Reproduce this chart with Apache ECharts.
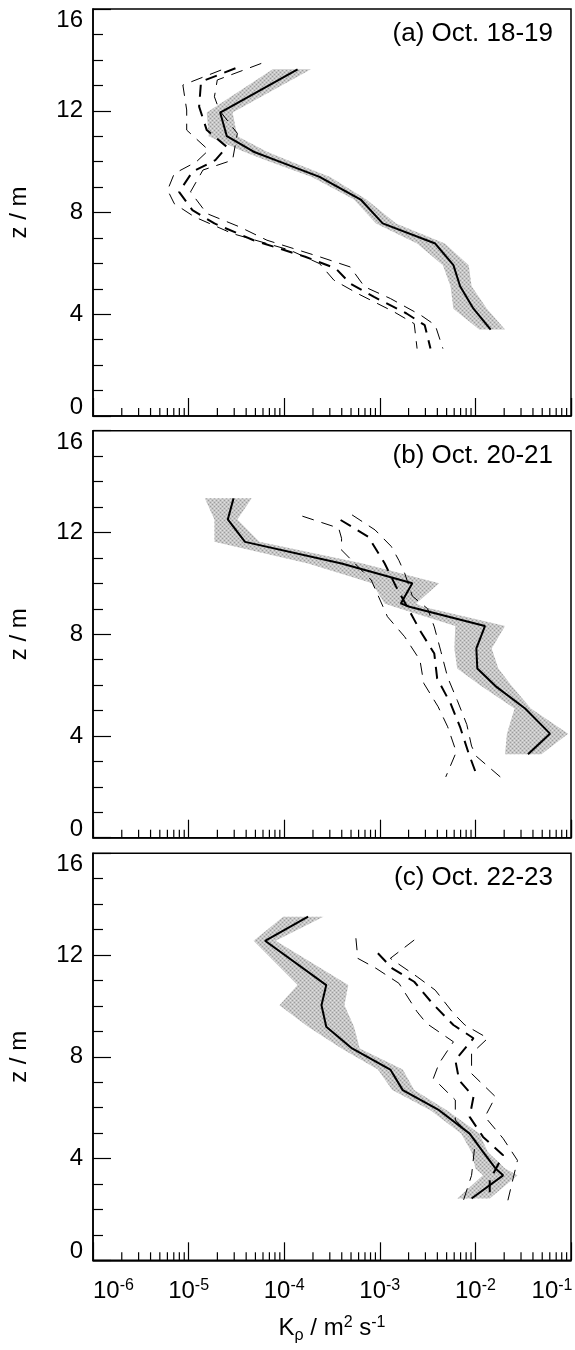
<!DOCTYPE html>
<html>
<head>
<meta charset="utf-8">
<script src="https://cdn.jsdelivr.net/npm/echarts@6/dist/echarts.min.js"></script>
<style>
  html, body { margin: 0; padding: 0; background: #fff; }
  #chart { width: 575px; height: 1350px; }
</style>
</head>
<body>
<div id="chart"></div>
<script>
// Eddy diffusivity profiles K_rho(z); values stored as log10(K / m^2 s^-1), heights z in m.
const panelTitles = ['(a) Oct. 18-19', '(b) Oct. 20-21', '(c) Oct. 22-23'];
const xTickExponents = [-6, -5, -4, -3, -2, -1];
const yTickValues = [0, 4, 8, 12, 16];

// ---- (a) Oct. 18-19 ----
const solidZ_a     = [13.63, 11.93, 11.00, 10.39, 10.06, 9.40, 8.51, 7.57, 6.78, 5.93, 5.10, 4.22, 3.40];
const solidLogK_a  = [-3.86, -4.67, -4.60, -4.32, -4.09, -3.63, -3.20, -2.97, -2.42, -2.23, -2.16, -2.02, -1.84];
const bandLoLogK_a = [-4.12, -4.81, -4.79, -4.42, -4.20, -3.71, -3.27, -3.04, -2.61, -2.34, -2.26, -2.23, -1.96];
const bandHiLogK_a = [-3.72, -4.54, -4.49, -4.18, -3.97, -3.52, -3.14, -2.83, -2.32, -2.07, -2.04, -1.88, -1.69];
const dashMidZ_a    = [13.67, 13.14, 12.16, 11.24, 10.58, 10.06, 9.60, 8.81, 8.09, 7.57, 6.91, 6.26, 5.80, 5.21, 4.68, 4.03, 3.57, 2.65];
const dashMidLogK_a = [-4.51, -4.87, -4.89, -4.81, -4.60, -4.72, -4.96, -5.10, -4.96, -4.73, -4.32, -3.78, -3.46, -3.31, -3.06, -2.72, -2.53, -2.47];
const dashLoZ_a     = [13.60, 13.01, 12.03, 11.24, 10.45, 9.99, 9.53, 8.88, 8.35, 7.83, 7.17, 6.52, 5.99, 5.34, 4.81, 4.09, 3.63, 2.65];
const dashLoLogK_a  = [-4.66, -5.06, -5.02, -5.02, -4.79, -4.92, -5.15, -5.22, -5.15, -4.94, -4.54, -3.94, -3.63, -3.48, -3.23, -2.85, -2.64, -2.61];
const dashHiZ_a     = [13.86, 13.21, 12.55, 12.03, 11.11, 10.06, 9.67, 8.81, 7.96, 7.44, 6.91, 6.26, 5.86, 5.08, 4.62, 3.96, 3.57, 2.65];
const dashHiLogK_a  = [-4.24, -4.70, -4.73, -4.68, -4.49, -4.54, -4.85, -4.98, -4.81, -4.47, -4.18, -3.63, -3.31, -3.16, -2.89, -2.57, -2.42, -2.34];

// ---- (b) Oct. 20-21 ----
const solidZ_b     = [13.34, 12.51, 11.63, 10.78, 10.00, 9.21, 9.08, 8.32, 7.44, 6.65, 5.96, 5.08, 4.09, 3.28];
const solidLogK_b  = [-4.53, -4.59, -4.41, -3.40, -2.66, -2.78, -2.69, -1.90, -1.99, -1.98, -1.79, -1.48, -1.22, -1.45];
const bandLoLogK_b = [-4.83, -4.73, -4.73, -3.75, -3.08, -2.95, -2.85, -2.21, -2.22, -2.19, -1.94, -1.59, -1.67, -1.69];
const bandHiLogK_b = [-4.34, -4.49, -4.26, -3.18, -2.38, -2.62, -2.55, -1.69, -1.83, -1.76, -1.62, -1.42, -1.03, -1.31];
const dashMidZ_b    = [12.49, 11.83, 10.79, 9.87, 8.09, 7.24, 6.26, 5.28, 4.35, 3.31, 2.39];
const dashMidLogK_b = [-3.41, -3.12, -2.95, -2.83, -2.57, -2.43, -2.40, -2.26, -2.16, -2.07, -1.98];
const dashLoZ_b     = [12.64, 12.17, 11.77, 11.31, 10.13, 8.69, 7.90, 6.98, 6.07, 5.15, 4.36, 3.37, 2.39];
const dashLoLogK_b  = [-3.81, -3.43, -3.40, -3.40, -3.09, -2.92, -2.74, -2.58, -2.54, -2.39, -2.29, -2.20, -2.31];
const dashHiZ_b     = [12.69, 12.10, 11.45, 10.90, 10.40, 9.50, 9.00, 8.29, 7.31, 6.30, 5.40, 4.45, 3.60, 3.20, 2.39];
const dashHiLogK_b  = [-3.29, -3.05, -2.88, -2.80, -2.74, -2.66, -2.50, -2.43, -2.36, -2.29, -2.19, -2.09, -2.04, -1.99, -1.74];

// ---- (c) Oct. 22-23 ----
const solidZ_c     = [13.51, 12.56, 10.82, 10.03, 9.18, 8.33, 7.50, 6.69, 5.90, 4.98, 4.26, 3.61, 3.34, 2.43];
const solidLogK_c  = [-3.75, -4.20, -3.56, -3.61, -3.56, -3.29, -2.89, -2.76, -2.38, -2.06, -1.92, -1.79, -1.71, -2.04];
const bandLoLogK_c = [-4.01, -4.32, -3.86, -4.05, -3.75, -3.40, -3.02, -2.87, -2.47, -2.15, -2.04, -2.00, -1.92, -2.19];
const bandHiLogK_c = [-3.59, -4.09, -3.33, -3.37, -3.27, -3.21, -2.76, -2.64, -2.30, -1.96, -1.87, -1.69, -1.56, -1.85];
const dashMidZ_c    = [12.07, 11.48, 10.95, 10.10, 9.25, 8.73, 7.87, 7.08, 6.43, 5.64, 4.85, 4.13, 3.15, 2.36];
const dashMidLogK_c = [-3.02, -2.87, -2.64, -2.45, -2.23, -2.02, -2.21, -2.17, -2.02, -2.06, -1.92, -1.71, -1.85, -1.85];
const dashLoZ_c     = [12.66, 11.87, 11.48, 10.89, 9.77, 9.31, 8.59, 7.74, 7.15, 6.30, 5.51, 4.72, 3.34, 2.30];
const dashLoLogK_c  = [-3.25, -3.23, -3.04, -2.80, -2.61, -2.51, -2.23, -2.38, -2.44, -2.21, -2.21, -2.00, -2.04, -2.13];
const dashHiZ_c     = [12.59, 11.87, 11.15, 10.62, 9.71, 9.25, 8.73, 8.13, 7.34, 6.43, 5.64, 4.79, 3.93, 2.36];
const dashHiLogK_c  = [-2.64, -2.89, -2.61, -2.42, -2.23, -2.11, -1.87, -2.04, -2.04, -1.79, -1.90, -1.71, -1.56, -1.66];

const panels = [
  { solidZ: solidZ_a, solid: solidLogK_a, lo: bandLoLogK_a, hi: bandHiLogK_a,
    midZ: dashMidZ_a, mid: dashMidLogK_a, dLoZ: dashLoZ_a, dLo: dashLoLogK_a, dHiZ: dashHiZ_a, dHi: dashHiLogK_a },
  { solidZ: solidZ_b, solid: solidLogK_b, lo: bandLoLogK_b, hi: bandHiLogK_b,
    midZ: dashMidZ_b, mid: dashMidLogK_b, dLoZ: dashLoZ_b, dLo: dashLoLogK_b, dHiZ: dashHiZ_b, dHi: dashHiLogK_b },
  { solidZ: solidZ_c, solid: solidLogK_c, lo: bandLoLogK_c, hi: bandHiLogK_c,
    midZ: dashMidZ_c, mid: dashMidLogK_c, dLoZ: dashLoZ_c, dLo: dashLoLogK_c, dHiZ: dashHiZ_c, dHi: dashHiLogK_c }
];

const FONT = '"Liberation Sans", Arial, Helvetica, sans-serif';
const gridTops = [9, 430.7, 853.3];
const gridHeight = 407;
const xMin = Math.pow(10, xTickExponents[0]);
const xMax = Math.pow(10, xTickExponents[xTickExponents.length - 1]);
const lastExp = xTickExponents[xTickExponents.length - 1];

// minor decade ticks 2..9 x 10^n
const minorTickValues = [];
for (let e = xTickExponents[0]; e < lastExp; e++) {
  for (let m = 2; m <= 9; m++) minorTickValues.push([m * Math.pow(10, e), 0]);
}

const toPairs = (logs, zs) => logs.map((lk, i) => [Math.pow(10, lk), zs[i]]);

// power-of-ten tick label; the rightmost one is pulled inside the frame
function decadeLabel(v) {
  const e = Math.round(Math.log10(v));
  const txt = '{b|10}{s|' + e + '}';
  return e === lastExp ? txt + '{pad|}' : txt;
}

// stippled grey fill for the uncertainty band
function makeStipple() {
  const c = document.createElement('canvas');
  c.width = 4; c.height = 4;
  const g = c.getContext('2d');
  g.fillStyle = '#c6c6c6';
  g.fillRect(0, 0, 4, 4);
  g.fillStyle = '#9c9c9c';
  g.fillRect(0, 0, 1, 1); g.fillRect(2, 2, 1, 1);
  g.fillStyle = '#e2e2e2';
  g.fillRect(2, 0, 1, 1); g.fillRect(0, 2, 1, 1);
  return c;
}
const stipple = makeStipple();

const chart = echarts.init(document.getElementById('chart'), null, { renderer: 'canvas' });

const grids = [], xAxes = [], yAxes = [], titles = [], series = [];

panels.forEach((p, k) => {
  const last = k === panels.length - 1;
  grids.push({
    left: 93, right: 4, top: gridTops[k], height: gridHeight,
    outerBoundsMode: 'none', containLabel: false,
    show: true, borderColor: '#000', borderWidth: 1.5, backgroundColor: 'transparent'
  });
  xAxes.push({
    type: 'log', logBase: 10, gridIndex: k, min: xMin, max: xMax,
    axisLine: { show: true, lineStyle: { color: '#000', width: 1.5 } },
    axisTick: { show: true, inside: true, length: 18, lineStyle: { color: '#000', width: 1.2 } },
    splitLine: { show: false },
    axisLabel: {
      show: last, margin: 17, color: '#000', fontFamily: FONT, fontSize: 24,
      alignMinLabel: 'left',
      formatter: decadeLabel,
      rich: {
        b: { fontFamily: FONT, fontSize: 24, color: '#000' },
        s: { fontFamily: FONT, fontSize: 16, color: '#000', padding: [0, 0, 12, 0] },
        pad: { width: 38 }
      }
    },
    name: last ? 'K{sub|ρ} / m{sup|2} s{sup|-1}' : '',
    nameLocation: 'middle', nameGap: 53,
    nameTextStyle: {
      fontFamily: FONT, fontSize: 24, color: '#000',
      rich: {
        sub: { fontFamily: FONT, fontSize: 16, color: '#000', padding: [14, 0, 0, 0] },
        sup: { fontFamily: FONT, fontSize: 16, color: '#000', padding: [0, 0, 12, 0] }
      }
    }
  });
  yAxes.push({
    type: 'value', gridIndex: k, min: yTickValues[0], max: yTickValues[yTickValues.length - 1], interval: 4,
    axisLine: { show: true, lineStyle: { color: '#000', width: 1.5 } },
    axisTick: { show: true, inside: true, length: 18, lineStyle: { color: '#000', width: 1.2 } },
    minorTick: { show: true, splitNumber: 4, length: 10, lineStyle: { color: '#000', width: 1.2 } },
    splitLine: { show: false },
    axisLabel: {
      margin: 10, color: '#000', fontFamily: FONT, fontSize: 24,
      formatter: v => v === 16 ? '{t|16}' : (v === 0 ? '{o|0}' : String(v)),
      rich: {
        t: { fontFamily: FONT, fontSize: 24, color: '#000', padding: [23, 0, 0, 0] },
        o: { fontFamily: FONT, fontSize: 24, color: '#000', padding: [0, 0, 17, 0] }
      }
    },
    name: 'z / m', nameLocation: 'middle', nameGap: 62, nameRotate: 90,
    nameTextStyle: { fontFamily: FONT, fontSize: 24, color: '#000' }
  });
  titles.push({
    text: panelTitles[k], right: 22, top: gridTops[k] + 12, padding: 0,
    textStyle: { fontFamily: FONT, fontSize: 26, fontWeight: 'normal', color: '#000' }
  });

  // uncertainty band as one polygon through the axis scales
  const bandRows = p.solidZ.map((z, i) => [Math.pow(10, p.lo[i]), Math.pow(10, p.hi[i]), z]);
  series.push({
    type: 'custom', xAxisIndex: k, yAxisIndex: k, z: 1, silent: true,
    encode: { x: [0, 1], y: 2 },
    data: bandRows,
    renderItem: (params, api) => {
      if (params.dataIndexInside !== 0) return;
      const n = params.dataInsideLength;
      const pts = [];
      for (let i = 0; i < n; i++) pts.push(api.coord([api.value(0, i), api.value(2, i)]));
      for (let i = n - 1; i >= 0; i--) pts.push(api.coord([api.value(1, i), api.value(2, i)]));
      return { type: 'polygon', shape: { points: pts },
               style: { fill: { image: stipple, repeat: 'repeat' }, stroke: null } };
    }
  });

  // minor log ticks along the bottom axis
  series.push({
    type: 'custom', xAxisIndex: k, yAxisIndex: k, z: 5, silent: true, clip: false,
    data: minorTickValues,
    renderItem: (params, api) => {
      const pt = api.coord([api.value(0), api.value(1)]);
      return { type: 'line', shape: { x1: pt[0], y1: pt[1], x2: pt[0], y2: pt[1] - 8 },
               style: { stroke: '#000', lineWidth: 1.2 } };
    }
  });

  const lineCommon = { type: 'line', xAxisIndex: k, yAxisIndex: k, symbol: 'none', silent: true, smooth: false };
  series.push(Object.assign({}, lineCommon, {
    z: 3, data: toPairs(p.dLo, p.dLoZ), lineStyle: { color: '#000', width: 1, type: [12, 8] }
  }));
  series.push(Object.assign({}, lineCommon, {
    z: 3, data: toPairs(p.dHi, p.dHiZ), lineStyle: { color: '#000', width: 1, type: [12, 8] }
  }));
  series.push(Object.assign({}, lineCommon, {
    z: 3, data: toPairs(p.mid, p.midZ), lineStyle: { color: '#000', width: 2, type: [12, 8] }
  }));
  series.push(Object.assign({}, lineCommon, {
    z: 4, data: toPairs(p.solid, p.solidZ), lineStyle: { color: '#000', width: 2, type: 'solid' }
  }));
});

chart.setOption({
  animation: false,
  backgroundColor: '#fff',
  title: titles,
  grid: grids,
  xAxis: xAxes,
  yAxis: yAxes,
  series: series
});
</script>
</body>
</html>
